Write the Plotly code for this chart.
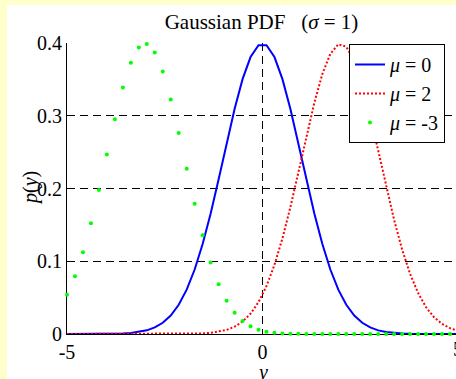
import plotly.graph_objects as go

# sample positions (50 evenly spaced points from -5 to 5)
y_vals = [-5.000, -4.796, -4.592, -4.388, -4.184, -3.980, -3.776, -3.571, -3.367, -3.163,
          -2.959, -2.755, -2.551, -2.347, -2.143, -1.939, -1.735, -1.531, -1.327, -1.122,
          -0.918, -0.714, -0.510, -0.306, -0.102, 0.102, 0.306, 0.510, 0.714, 0.918,
          1.122, 1.327, 1.531, 1.735, 1.939, 2.143, 2.347, 2.551, 2.755, 2.959,
          3.163, 3.367, 3.571, 3.776, 3.980, 4.184, 4.388, 4.592, 4.796, 5.000]

# p(y) for mu = 0
p_mu0 = [0.0000, 0.0000, 0.0000, 0.0000, 0.0001, 0.0001, 0.0003, 0.0007, 0.0014, 0.0027,
         0.0050, 0.0090, 0.0154, 0.0254, 0.0402, 0.0609, 0.0886, 0.1236, 0.1654, 0.2126,
         0.2618, 0.3092, 0.3503, 0.3807, 0.3969, 0.3969, 0.3807, 0.3503, 0.3092, 0.2618,
         0.2126, 0.1654, 0.1236, 0.0886, 0.0609, 0.0402, 0.0254, 0.0154, 0.0090, 0.0050,
         0.0027, 0.0014, 0.0007, 0.0003, 0.0001, 0.0001, 0.0000, 0.0000, 0.0000, 0.0000]

# p(y) for mu = 2
p_mu2 = [0.0000, 0.0000, 0.0000, 0.0000, 0.0000, 0.0000, 0.0000, 0.0000, 0.0000, 0.0000,
         0.0000, 0.0000, 0.0000, 0.0000, 0.0001, 0.0002, 0.0004, 0.0008, 0.0016, 0.0031,
         0.0056, 0.0100, 0.0171, 0.0279, 0.0438, 0.0659, 0.0950, 0.1315, 0.1745, 0.2222,
         0.2713, 0.3181, 0.3574, 0.3852, 0.3982, 0.3949, 0.3756, 0.3428, 0.3000, 0.2519,
         0.2029, 0.1567, 0.1161, 0.0824, 0.0562, 0.0367, 0.0230, 0.0139, 0.0080, 0.0044]

# p(y) for mu = -3
p_mum3 = [0.0540, 0.0795, 0.1123, 0.1522, 0.1979, 0.2468, 0.2952, 0.3389, 0.3730, 0.3937,
          0.3986, 0.3871, 0.3607, 0.3223, 0.2763, 0.2272, 0.1792, 0.1356, 0.0984, 0.0684,
          0.0457, 0.0293, 0.0180, 0.0106, 0.0060, 0.0032, 0.0017, 0.0008, 0.0004, 0.0002,
          0.0001, 0.0000, 0.0000, 0.0000, 0.0000, 0.0000, 0.0000, 0.0000, 0.0000, 0.0000,
          0.0000, 0.0000, 0.0000, 0.0000, 0.0000, 0.0000, 0.0000, 0.0000, 0.0000, 0.0000]

series_names = ["<i>μ</i> = 0", "<i>μ</i> = 2", "<i>μ</i> = -3"]
x_ticks = [-5, 0, 5]
y_ticks = [0, 0.1, 0.2, 0.3, 0.4]

FONT = "Liberation Serif, Times New Roman, serif"
FS = 20

fig = go.Figure()
fig.add_trace(go.Scatter(x=y_vals, y=p_mu0, mode="lines", name=series_names[0],
                         line=dict(color="#0000FF", width=2)))
fig.add_trace(go.Scatter(x=y_vals, y=p_mu2, mode="lines", name=series_names[1],
                         line=dict(color="#FF0000", width=2, dash="2px,2px")))
fig.add_trace(go.Scatter(x=y_vals, y=p_mum3, mode="markers", name=series_names[2],
                         marker=dict(color="#00FF00", size=4), cliponaxis=False))

W, H = 456, 379
ML, MR, MT, MB = 67, 0, 43, 45
PW, PH = W - ML - MR, H - MT - MB


def px_x(px):
    return (px - ML) / PW


def px_y(py):
    return (H - MB - py) / PH


# white figure panel inside the yellow border
fig.add_shape(type="rect", xref="paper", yref="paper", layer="below",
              x0=px_x(7), x1=px_x(470), y0=px_y(400), y1=px_y(5),
              fillcolor="white", line=dict(width=0))

fig.update_layout(
    width=W, height=H,
    margin=dict(l=ML, r=MR, t=MT, b=MB, autoexpand=False),
    paper_bgcolor="#FFFFCC",
    plot_bgcolor="white",
    font=dict(family=FONT, size=FS, color="black"),
    title=dict(text="Gaussian PDF\u00a0\u00a0\u00a0(<i>σ</i> = 1)", x=0.5, xref="paper",
               y=1 - 22 / H, yref="container", yanchor="middle", xanchor="center",
               font=dict(family=FONT, size=21, color="black")),
    showlegend=True,
    legend=dict(x=px_x(349), y=px_y(44), xanchor="left", yanchor="top",
                bgcolor="white", bordercolor="black", borderwidth=1,
                font=dict(family=FONT, size=FS, color="black"),
                tracegroupgap=0),
)

fig.update_xaxes(range=[-5, 5 - (2 / 39.1)], tickvals=x_ticks, ticktext=["-5", "0", "5"],
                 ticks="inside", ticklen=5, tickcolor="black", automargin=False,
                 showline=True, linecolor="black", linewidth=1,
                 showgrid=True, gridcolor="black", gridwidth=1, griddash="8px,5px",
                 zeroline=False, layer="below traces")
fig.update_yaxes(range=[0, 0.4], tickvals=y_ticks, ticktext=["0", "0.1", "0.2", "0.3", "0.4"],
                 ticks="inside", ticklen=5, tickcolor="black", automargin=False,
                 showline=True, linecolor="black", linewidth=1,
                 showgrid=True, gridcolor="black", gridwidth=1, griddash="8px,5px",
                 zeroline=False, layer="below traces")

# axis titles
fig.add_annotation(x=px_x(30), y=px_y(188), xref="paper", yref="paper",
                   text="<i>p</i>(<i>y</i>)", textangle=-90, showarrow=False,
                   xanchor="center", yanchor="middle",
                   font=dict(family=FONT, size=FS, color="black"))
fig.add_annotation(x=px_x(262), y=px_y(372), xref="paper", yref="paper",
                   text="<i>y</i>", showarrow=False, xanchor="center", yanchor="middle",
                   font=dict(family=FONT, size=FS, color="black"))

# tick label for x = 5, which sits just past the right edge of the window
fig.add_annotation(x=px_x(458), y=px_y(349), xref="paper", yref="paper",
                   text="5", showarrow=False, xanchor="center", yanchor="middle",
                   font=dict(family=FONT, size=FS, color="black"))

# remove the browser's default page margin so the figure sits at the window's corner
fig.write_html("out.html", config={"displayModeBar": False},
               post_script="document.body.style.margin='0';")
